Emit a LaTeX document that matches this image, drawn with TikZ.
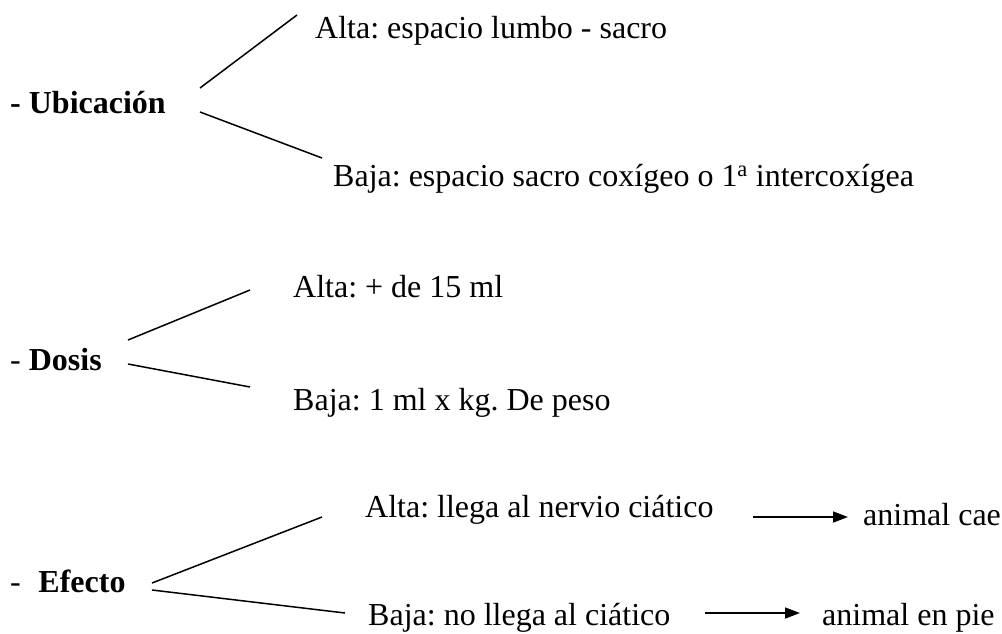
\documentclass[tikz,border=0pt]{standalone}
\usepackage{fontspec}
\setmainfont{Liberation Serif}
\usetikzlibrary{arrows.meta}
\frenchspacing
\tikzset{
  txt/.style={anchor=base west, inner sep=0pt, font=\fontsize{32}{38}\selectfont},
  head/.style={anchor=base west, inner sep=0pt, font=\fontsize{32}{38}\selectfont},
  branch/.style={line width=1.5pt},
  conseq/.style={line width=1.5pt, -{Triangle[length=15pt, width=11pt]}}
}
\begin{document}
\begin{tikzpicture}[x=1pt, y=-1pt]
\useasboundingbox (0,0) rectangle (1002,633);
% Ubicacion
\node[head] (ub) at (10,113) {\textbf{- Ubicación}};
\coordinate (ub1s) at (200,88);  \coordinate (ub1e) at (297,15);
\coordinate (ub2s) at (200,112); \coordinate (ub2e) at (322,158);
\node[txt] (uba) at (315,38) {Alta: espacio lumbo - sacro};
\node[txt] (ubb) at (333,186) {Baja: espacio sacro coxígeo o 1\textsuperscript{a} intercoxígea};
\draw[branch] (ub1s) -- (ub1e);
\draw[branch] (ub2s) -- (ub2e);
% Dosis
\node[head] (do) at (10,370) {- \textbf{Dosis}};
\coordinate (do1s) at (128,340); \coordinate (do1e) at (250,290);
\coordinate (do2s) at (128,364); \coordinate (do2e) at (250,387);
\node[txt] (doa) at (293,297) {Alta: + de 15 ml};
\node[txt] (dob) at (293,410) {Baja: 1 ml x kg. De peso};
\draw[branch] (do1s) -- (do1e);
\draw[branch] (do2s) -- (do2e);
% Efecto
\node[head] (ef) at (10,592) {-\hspace{0.55em}\textbf{Efecto}};
\coordinate (ef1s) at (152,583); \coordinate (ef1e) at (322,517);
\coordinate (ef2s) at (152,590); \coordinate (ef2e) at (345,613);
\node[txt] (efa) at (365,517) {Alta: llega al nervio ciático};
\node[txt] (efb) at (368,625) {Baja: no llega al ciático};
\draw[branch] (ef1s) -- (ef1e);
\draw[branch] (ef2s) -- (ef2e);
\node[txt] (cae) at (863,525) {animal cae};
\node[txt] (pie) at (822,625) {animal en pie};
\coordinate (a1s) at (753,517); \coordinate (a1e) at (848,517);
\coordinate (a2s) at (705,613); \coordinate (a2e) at (800,613);
\draw[conseq] (a1s) -- (a1e);
\draw[conseq] (a2s) -- (a2e);
\end{tikzpicture}
\end{document}
